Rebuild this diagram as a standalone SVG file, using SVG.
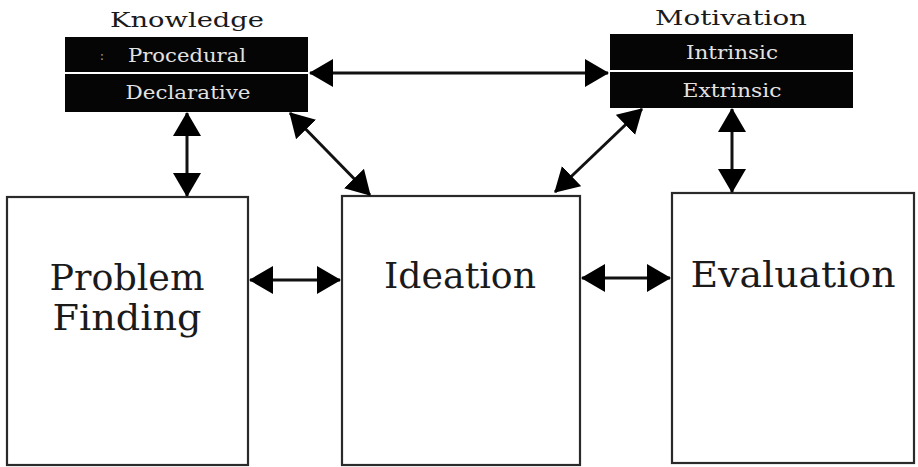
<svg xmlns="http://www.w3.org/2000/svg" width="918" height="467" viewBox="0 0 918 467">
<style>
.box{fill:#fff;stroke:#2a2a2a;stroke-width:2.2}
.blk{fill:#050505}
.big{font-family:"DejaVu Serif","Liberation Serif",serif;font-size:35px;fill:#1a1a1a;text-anchor:middle}
.ttl{font-family:"DejaVu Serif","Liberation Serif",serif;font-size:21px;fill:#1a1a1a;text-anchor:middle}
.inn{font-family:"DejaVu Serif","Liberation Serif",serif;font-size:19px;fill:#e2e2e2;text-anchor:middle}
.con{stroke:#111;stroke-width:3;fill:none;marker-start:url(#ah);marker-end:url(#ah)}
</style>
<defs>
<marker id="ah" viewBox="0 0 24 28" refX="23" refY="14" markerWidth="24" markerHeight="28" markerUnits="userSpaceOnUse" orient="auto-start-reverse">
<path d="M0,0 L24,14 L0,28 Z" fill="#000"/>
</marker>
</defs>
<rect width="918" height="467" fill="#fff"/>
<g id="knowledge">
<text class="ttl" x="187" y="27" textLength="154" lengthAdjust="spacingAndGlyphs">Knowledge</text>
<rect class="blk" x="65" y="37" width="243" height="35"/>
<rect class="blk" x="65" y="74" width="243" height="38"/>
<text x="102" y="60" font-family="DejaVu Serif, serif" font-size="13" fill="#999" text-anchor="middle">:</text>
<text class="inn" x="187" y="62" textLength="118" lengthAdjust="spacingAndGlyphs">Procedural</text>
<text class="inn" x="188" y="99" textLength="125" lengthAdjust="spacingAndGlyphs">Declarative</text>
</g>
<g id="motivation">
<text class="ttl" x="731" y="25" textLength="152" lengthAdjust="spacingAndGlyphs">Motivation</text>
<rect class="blk" x="610" y="34" width="243" height="36"/>
<rect class="blk" x="610" y="72" width="243" height="36"/>
<text class="inn" x="732" y="59" textLength="92" lengthAdjust="spacingAndGlyphs">Intrinsic</text>
<text class="inn" x="732" y="97" textLength="99" lengthAdjust="spacingAndGlyphs">Extrinsic</text>
</g>
<g id="problem-finding">
<rect class="box" x="7" y="197" width="241" height="268"/>
<text class="big" x="127" y="290" textLength="155" lengthAdjust="spacingAndGlyphs">Problem</text>
<text class="big" x="127" y="330" textLength="149" lengthAdjust="spacingAndGlyphs">Finding</text>
</g>
<g id="ideation">
<rect class="box" x="342" y="196" width="238" height="269"/>
<text class="big" x="460" y="288" textLength="152" lengthAdjust="spacingAndGlyphs">Ideation</text>
</g>
<g id="evaluation">
<rect class="box" x="672" y="193" width="242" height="270"/>
<text class="big" x="793" y="287" textLength="205" lengthAdjust="spacingAndGlyphs">Evaluation</text>
</g>
<g id="connectors">
<line class="con" x1="310" y1="73" x2="608" y2="73"/>
<line class="con" x1="187" y1="113" x2="187" y2="196"/>
<line class="con" x1="290" y1="113" x2="370" y2="195"/>
<line class="con" x1="642" y1="109" x2="555" y2="192"/>
<line class="con" x1="732" y1="109" x2="732" y2="192"/>
<line class="con" x1="250" y1="280" x2="340" y2="280"/>
<line class="con" x1="582" y1="278" x2="670" y2="278"/>
</g>
</svg>
